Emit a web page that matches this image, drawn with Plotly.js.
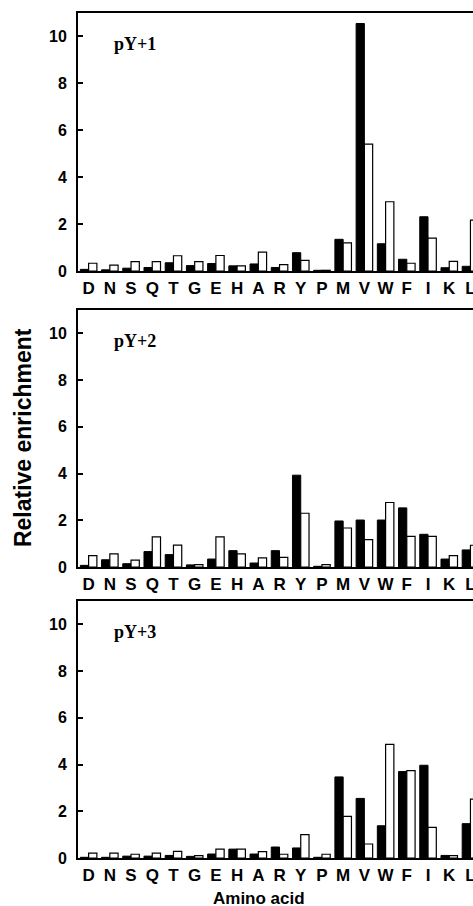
<!DOCTYPE html>
<html>
<head>
<meta charset="utf-8">
<script src="https://cdn.plot.ly/plotly-3.0.1.min.js"></script>
<style>html,body{margin:0;padding:0;background:#fff;}#chart{width:473px;height:906px;}</style>
</head>
<body>
<div id="chart"></div>
<script>
// Categories (amino acids)
var aminoAcids = ["D","N","S","Q","T","G","E","H","A","R","Y","P","M","V","W","F","I","K","L"];

// pY+1
var p1Black = [0.07,0.05,0.12,0.15,0.35,0.23,0.32,0.22,0.30,0.15,0.78,0.03,1.35,10.54,1.16,0.50,2.31,0.14,0.20];
var p1White = [0.33,0.25,0.40,0.40,0.65,0.40,0.66,0.22,0.80,0.27,0.45,0.03,1.20,5.40,2.95,0.33,1.40,0.41,2.17];
// pY+2
var p2Black = [0.07,0.31,0.14,0.66,0.53,0.09,0.34,0.70,0.17,0.70,3.93,0.03,1.97,2.01,2.01,2.53,1.40,0.34,0.73];
var p2White = [0.49,0.56,0.29,1.29,0.94,0.10,1.29,0.56,0.39,0.41,2.30,0.10,1.67,1.17,2.76,1.31,1.31,0.49,0.93];
// pY+3
var p3Black = [0.03,0.03,0.08,0.08,0.11,0.07,0.17,0.38,0.17,0.47,0.43,0.03,3.47,2.55,1.38,3.70,3.97,0.11,1.47];
var p3White = [0.21,0.21,0.16,0.21,0.28,0.10,0.38,0.38,0.27,0.16,1.00,0.16,1.78,0.60,4.86,3.74,1.31,0.10,2.52];

var panelLabels = ["pY+1","pY+2","pY+3"];
var yTickVals = [0,2,4,6,8,10];

var series = [[p1Black,p1White],[p2Black,p2White],[p3Black,p3White]];
var traces = [];
series.forEach(function(pair, i){
  var xa = i === 0 ? 'x' : 'x' + (i+1);
  var ya = i === 0 ? 'y' : 'y' + (i+1);
  traces.push({type:'bar', x:aminoAcids, y:pair[0], xaxis:xa, yaxis:ya,
    marker:{color:'#000', line:{color:'#000', width:1}}, showlegend:false, hoverinfo:'skip'});
  traces.push({type:'bar', x:aminoAcids, y:pair[1], xaxis:xa, yaxis:ya,
    marker:{color:'#fff', line:{color:'#000', width:1.2}}, showlegend:false, hoverinfo:'skip'});
});

var H = 906;
function dom(top, zero){ return [1 - zero/H, 1 - top/H]; }
var domains = [dom(12.7,271), dom(310,567), dom(601,858)];

var tickFont = {family:'Liberation Sans, Arial, sans-serif', size:17, color:'#000', weight:'bold'};
var layout = {
  width:473, height:906,
  margin:{l:78, r:0, t:0, b:0},
  paper_bgcolor:'#fff', plot_bgcolor:'#fff',
  barmode:'group', bargap:0.22, bargroupgap:0,
  annotations:[],
  font:{family:'Liberation Sans, Arial, sans-serif', color:'#000'}
};
for (var i=0;i<3;i++){
  var sx = i===0 ? '' : String(i+1);
  layout['xaxis'+sx] = {
    type:'category', domain:[0,1], anchor:'y'+sx, range:[-0.5,18.12],
    showline:true, linecolor:'#000', linewidth:2, mirror:true,
    ticks:'', showgrid:false, zeroline:false, tickfont:tickFont, ticklabelstandoff:1, fixedrange:true
  };
  layout['yaxis'+sx] = {
    domain:domains[i], anchor:'x'+sx, range:[0,11],
    tickvals:yTickVals, ticktext:yTickVals.map(String),
    showline:true, linecolor:'#000', linewidth:2,
    ticks:'inside', ticklen:5, tickwidth:2, tickcolor:'#000',
    showgrid:false, zeroline:false,
    tickfont:{family:'Liberation Sans, Arial, sans-serif', size:16, color:'#000', weight:'bold'},
    ticklabelstandoff:6, fixedrange:true
  };
  layout.annotations.push({
    text:panelLabels[i], xref:'x'+sx+' domain', yref:'y'+sx, x:0.086, y:9.66,
    xanchor:'left', yanchor:'middle', showarrow:false,
    font:{family:'Liberation Serif, Times New Roman, serif', size:18, color:'#000', weight:'bold'}
  });
}
layout.annotations.push({
  text:'Relative enrichment', xref:'paper', yref:'paper', x:-0.139, y:1-438/H,
  xanchor:'center', yanchor:'middle', textangle:-90, showarrow:false,
  font:{family:'Liberation Sans, Arial, sans-serif', size:23, color:'#000', weight:'bold'}
});
layout.annotations.push({
  text:'Amino acid', xref:'paper', yref:'paper', x:(259-78)/395, y:1-898/H,
  xanchor:'center', yanchor:'middle', showarrow:false,
  font:{family:'Liberation Sans, Arial, sans-serif', size:17, color:'#000', weight:'bold'}
});

Plotly.newPlot('chart', traces, layout, {displayModeBar:false, staticPlot:true});
</script>
</body>
</html>
